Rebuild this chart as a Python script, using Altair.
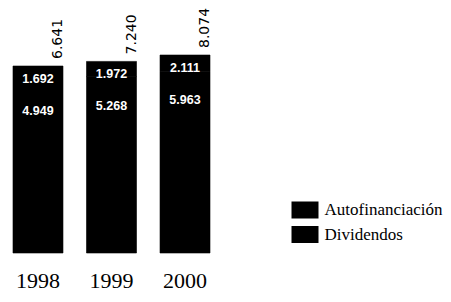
import altair as alt
import pandas as pd

years = ["1998", "1999", "2000"]
autofinanciacion = [1.692, 1.972, 2.111]
dividendos = [4.949, 5.268, 5.963]
series = ["Autofinanciación", "Dividendos"]

Y_DOMAIN = [-17.72, 14.2]

rows = []
for i, yr in enumerate(years):
    d = dividendos[i]
    a = autofinanciacion[i]
    t = round(d + a, 3)
    rows.append({"year": yr, "series": series[1], "lo": Y_DOMAIN[0], "hi": d, "value": d, "total": t})
    rows.append({"year": yr, "series": series[0], "lo": d, "hi": t, "value": a, "total": t})
df = pd.DataFrame(rows)
totals = pd.DataFrame({"year": years,
                       "total": [round(a + d, 3) for a, d in zip(autofinanciacion, dividendos)]})

x_enc = alt.X("year:N", sort=years,
              scale=alt.Scale(paddingInner=0.32, paddingOuter=0.068),
              axis=alt.Axis(title=None, ticks=False, tickSize=0, domain=False, grid=False,
                            labelAngle=0, labelFont="Liberation Serif", labelFontSize=22,
                            labelColor="black", labelPadding=17))
y_scale = alt.Scale(domain=Y_DOMAIN, nice=False, zero=False)

bars = alt.Chart(df).mark_bar(stroke="black", strokeWidth=0.6).encode(
    x=x_enc,
    y=alt.Y("hi:Q", scale=y_scale, axis=None),
    y2="lo:Q",
    color=alt.Color("series:N",
                    scale=alt.Scale(domain=series, range=["black", "black"]),
                    legend=alt.Legend(title=None, orient="none", legendX=283.5, legendY=188.5,
                                      symbolType="M-1,-0.63H1V0.63H-1Z", symbolSize=729,
                                      symbolStrokeWidth=0, labelFont="Liberation Serif",
                                      labelFontSize=17, labelColor="black", labelOffset=6,
                                      rowPadding=1.5, padding=0)),
)

inner_font = "Liberation Sans"
upper = alt.Chart(df).transform_filter(alt.datum.series == series[0]).mark_text(
    color="white", font=inner_font, fontWeight="bold", fontSize=12.5, baseline="middle", dy=13
).encode(x=alt.X("year:N", sort=years), y=alt.Y("total:Q", scale=y_scale),
         text=alt.Text("value:Q", format=".3f"))

lower = alt.Chart(df).transform_filter(alt.datum.series == series[1]).mark_text(
    color="white", font=inner_font, fontWeight="bold", fontSize=12.5, baseline="middle", dy=45
).encode(x=alt.X("year:N", sort=years), y=alt.Y("total:Q", scale=y_scale),
         text=alt.Text("value:Q", format=".3f"))

tot = alt.Chart(totals).mark_text(
    angle=270, align="left", baseline="alphabetic", xOffset=24, yOffset=-7,
    font="DejaVu Sans", fontSize=14, color="black"
).encode(x=alt.X("year:N", sort=years), y=alt.Y("total:Q", scale=y_scale),
         text=alt.Text("total:Q", format=".3f"))

chart = alt.layer(bars, upper, lower, tot).properties(
    width=207, height=245, autosize="none",
    padding={"left": 0, "top": 0, "right": 228, "bottom": 41},
).configure_view(stroke=None)

chart.save("out.html", embed_options={"renderer": "svg", "actions": False})
